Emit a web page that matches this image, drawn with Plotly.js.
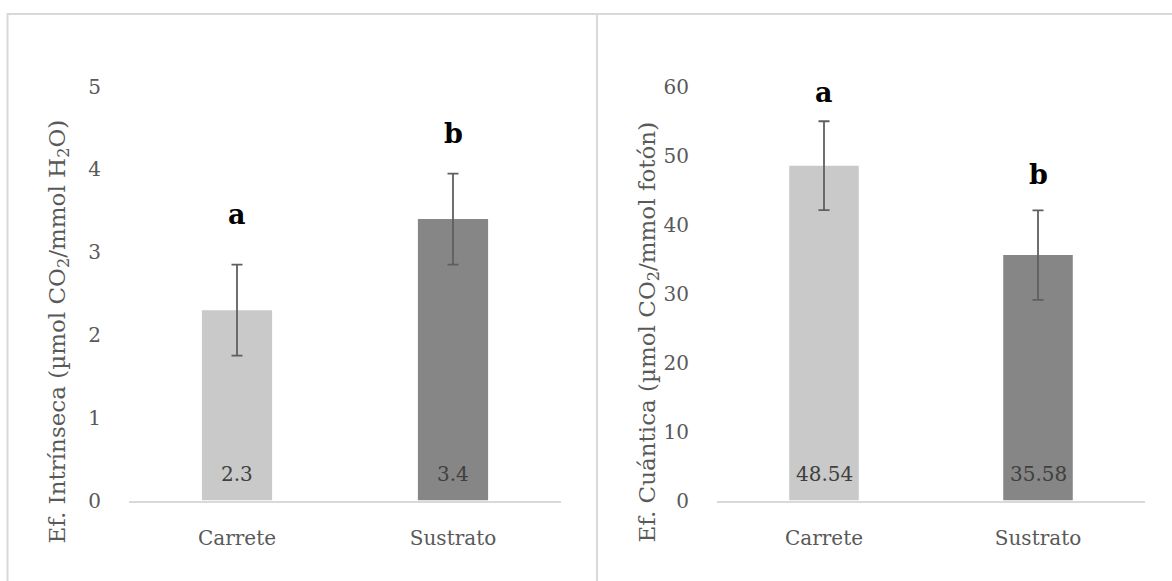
<!DOCTYPE html>
<html>
<head>
<meta charset="utf-8">
<script src="https://cdn.plot.ly/plotly-3.0.1.min.js"></script>
<style>
  html, body { margin: 0; padding: 0; background: #ffffff; }
  #chart { width: 1172px; height: 581px; }
</style>
</head>
<body>
<div id="chart"></div>
<script>
// ---- data ----
const categories = ["Carrete", "Sustrato"];

const intrinsecaValues = [2.3, 3.4];
const intrinsecaErrors = [0.55, 0.55];
const intrinsecaLetters = ["a", "b"];
const intrinsecaLetterY = [3.45, 4.43];
const intrinsecaLabels = ["2.3", "3.4"];

const cuanticaValues = [48.54, 35.58];
const cuanticaErrors = [6.45, 6.5];
const cuanticaLetters = ["a", "b"];
const cuanticaLetterY = [59.2, 47.3];
const cuanticaLabels = ["48.54", "35.58"];

const leftTicks = [0, 1, 2, 3, 4, 5];
const rightTicks = [0, 10, 20, 30, 40, 50, 60];

const leftTitle = "Ef. Intrínseca (µmol CO<sub>2</sub>/mmol H<sub>2</sub>O)";
const rightTitle = "Ef. Cuántica (µmol CO<sub>2</sub>/mmol fotón)";

const barColors = ["#c9c9c9", "#868686"];

// ---- styles ----
const W = 1172, H = 581;
const FONT = "DejaVu Serif";
const px = v => v / W;
const py = v => 1 - v / H;

const errStyle = { type: "data", visible: true, color: "#5f5f5f", thickness: 1.8, width: 5.5 };

const traces = [
  {
    type: "bar", x: categories, y: intrinsecaValues, xaxis: "x", yaxis: "y",
    marker: { color: barColors, line: { width: 0 } },
    error_y: Object.assign({ array: intrinsecaErrors }, errStyle),
    hoverinfo: "x+y", showlegend: false
  },
  {
    type: "bar", x: categories, y: cuanticaValues, xaxis: "x2", yaxis: "y2",
    marker: { color: barColors, line: { width: 0 } },
    error_y: Object.assign({ array: cuanticaErrors }, errStyle),
    hoverinfo: "x+y", showlegend: false
  }
];

const tickFont = { family: FONT, size: 20, color: "#595959" };

function xAxis(domain, anchor) {
  return {
    domain: domain, anchor: anchor, type: "category",
    showline: true, linecolor: "#d9d9d9", linewidth: 2,
    showgrid: false, zeroline: false,
    ticks: "outside", ticklen: 18, tickcolor: "rgba(0,0,0,0)",
    tickfont: tickFont, fixedrange: true
  };
}
function yAxis(domain, anchor, range, ticks) {
  return {
    domain: domain, anchor: anchor, range: range,
    tickmode: "array", tickvals: ticks, ticktext: ticks.map(String),
    showline: false, showgrid: false, zeroline: false,
    ticks: "outside", ticklen: 23, tickcolor: "rgba(0,0,0,0)",
    tickfont: tickFont, fixedrange: true
  };
}

const annotations = [];
function addPanelText(xref, yref, values, labels, letters, letterY) {
  categories.forEach((c, i) => {
    annotations.push({
      xref: xref, yref: yref, x: c, y: 0, text: labels[i],
      showarrow: false, xanchor: "center", yanchor: "middle", yshift: 27,
      font: { family: FONT, size: 20, color: "#404040" }
    });
    annotations.push({
      xref: xref, yref: yref, x: c, y: letterY[i], text: "<b>" + letters[i] + "</b>",
      showarrow: false, xanchor: "center", yanchor: "middle",
      font: { family: FONT, size: 27, color: "#000000" }
    });
  });
}
addPanelText("x", "y", intrinsecaValues, intrinsecaLabels, intrinsecaLetters, intrinsecaLetterY);
addPanelText("x2", "y2", cuanticaValues, cuanticaLabels, cuanticaLetters, cuanticaLetterY);

annotations.push({
  xref: "paper", yref: "paper", x: px(58.5), y: py(332), text: leftTitle,
  textangle: -90, showarrow: false, xanchor: "center", yanchor: "middle",
  font: { family: FONT, size: 23, color: "#595959" }
});
annotations.push({
  xref: "paper", yref: "paper", x: px(648.5), y: py(332), text: rightTitle,
  textangle: -90, showarrow: false, xanchor: "center", yanchor: "middle",
  font: { family: FONT, size: 23, color: "#595959" }
});

const yDom = [py(500.5), py(86.7)];

const layout = {
  width: W, height: H,
  margin: { l: 0, r: 0, t: 0, b: 0, pad: 0 },
  paper_bgcolor: "#ffffff", plot_bgcolor: "rgba(0,0,0,0)",
  showlegend: false, bargap: 0.675,
  xaxis: xAxis([px(129), px(561)], "y"),
  yaxis: yAxis(yDom, "x", [0, 5], leftTicks),
  xaxis2: xAxis([px(717), px(1145)], "y2"),
  yaxis2: yAxis(yDom, "x2", [0, 60], rightTicks),
  annotations: annotations,
  shapes: [
    { type: "rect", xref: "paper", yref: "paper", x0: px(7.5), x1: px(597), y0: py(14), y1: -0.2,
      line: { color: "#d9d9d9", width: 2 }, fillcolor: "rgba(0,0,0,0)", layer: "below" },
    { type: "rect", xref: "paper", yref: "paper", x0: px(597), x1: 1.05, y0: py(14), y1: -0.2,
      line: { color: "#d9d9d9", width: 2 }, fillcolor: "rgba(0,0,0,0)", layer: "below" }
  ]
};

Plotly.newPlot("chart", traces, layout, { displayModeBar: false, staticPlot: true });
</script>
</body>
</html>
